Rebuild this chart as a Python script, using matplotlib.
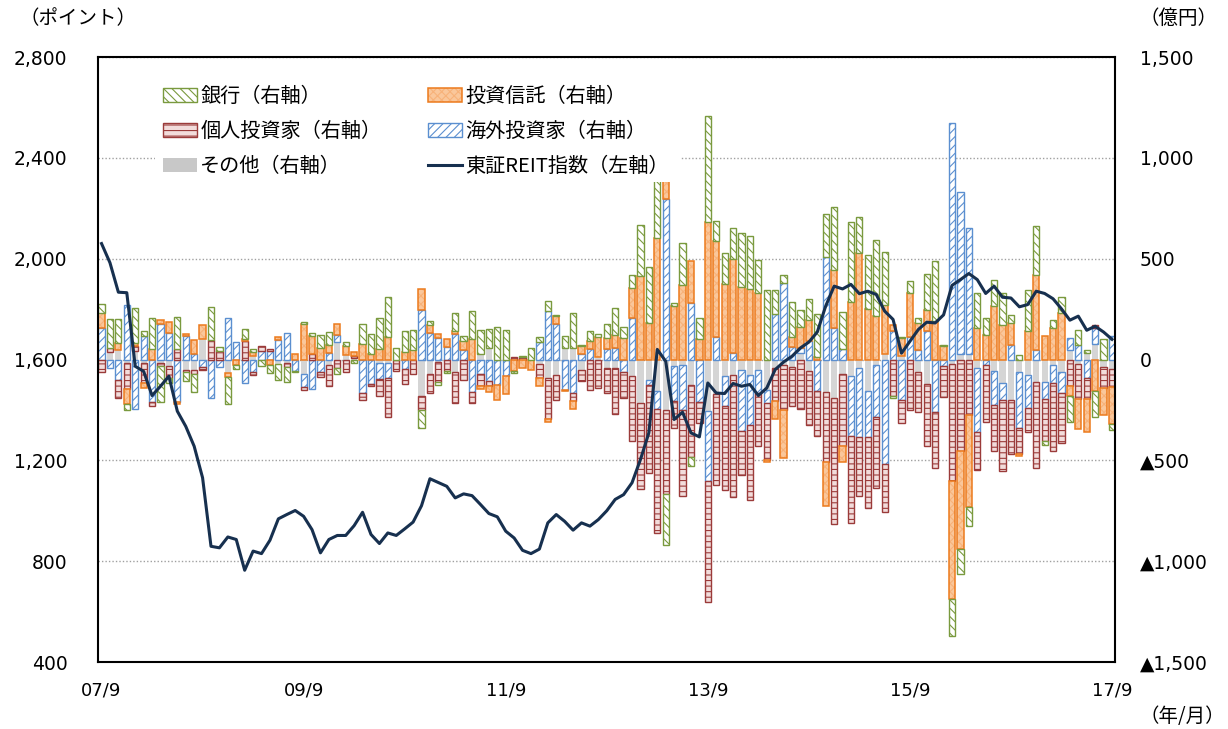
import numpy as np
import matplotlib.pyplot as plt
from matplotlib.patches import Patch, Rectangle
from matplotlib.lines import Line2D

plt.rcParams['font.family'] = ['Noto Sans CJK JP', 'DejaVu Sans']
plt.rcParams['hatch.linewidth'] = 0.8

# monthly data 2007/9 - 2017/9
months = np.arange(121)
tick_pos = [0, 24, 48, 72, 96, 120]
tick_labels = ['07/9', '09/9', '11/9', '13/9', '15/9', '17/9']

# 東証REIT指数 (left axis, points)
reit = [2060, 1984, 1867, 1865, 1573, 1553, 1457, 1494, 1534, 1395,
        1335, 1256, 1131, 859, 853, 896, 886, 764, 840, 830,
        883, 968, 985, 1001, 978, 925, 833, 886, 902, 902,
        941, 994, 906, 870, 912, 902, 928, 955, 1020, 1127,
        1112, 1097, 1051, 1067, 1060, 1025, 989, 976, 919, 892,
        843, 830, 848, 952, 985, 958, 923, 952, 939, 965,
        1000, 1045, 1064, 1111, 1203, 1309, 1640, 1593, 1362, 1391,
        1309, 1293, 1507, 1467, 1465, 1505, 1494, 1501, 1457, 1487,
        1560, 1590, 1613, 1646, 1669, 1709, 1812, 1891, 1880, 1898,
        1861, 1871, 1858, 1792, 1759, 1625, 1672, 1719, 1748, 1745,
        1777, 1894, 1917, 1941, 1917, 1862, 1891, 1847, 1844, 1809,
        1818, 1871, 1862, 1841, 1801, 1756, 1772, 1716, 1732, 1709,
        1680]

# net purchases (right axis, 億円)
other = [0, 38, 45, -15, 40, -15, 0, -15, -30, 0,
         -50, -50, 100, 0, 0, -65, 0, 0, 16, 0,
         0, -20, -15, 0, -70, 0, 0, -25, 86, 20,
         5, 0, 0, -15, -15, 0, 0, 0, -180, -72,
         -13, 0, -62, 0, 0, 25, 58, 0, 0, 0,
         0, 0, -20, -90, -75, 55, 55, -50, 0, 12,
         -40, -40, 0, -80, -215, -100, -155, -250, -33, -28,
         -125, 0, -254, -170, -83, -75, -50, -75, -50, -150,
         -40, -25, -38, 30, -58, 0, -160, -190, -71, -83,
         -41, -158, -28, 25, 0, 17, 0, -63, -121, 0,
         0, -20, 27, 27, -41, 0, -58, -118, -200, -63,
         -75, -110, -110, -29, -63, 45, -24, 33, 79, -36,
         -46]
foreign = [157, -41, -100, 269, -243, 116, -210, 174, 133, -210,
           116, 28, -38, -190, -35, 207, 88, -118, -60, 40,
           40, 95, 130, -55, -68, -145, -62, 33, 35, 0,
           0, -166, -120, -83, -75, 0, -45, 0, 244, 133,
           108, 61, 128, 45, -160, -70, -108, -124, -83, 0,
           0, 0, 86, 240, 174, -150, -166, 25, 50, 0,
           50, 55, -60, 207, 0, -25, -90, 796, -174, -220,
           282, -212, -348, 111, -150, 33, -303, -249, -116, -66,
           227, 381, 61, 28, 91, -154, 509, 154, 53, -298,
           -345, -224, -259, -519, 141, -201, 111, 45, 141, -260,
           -30, 1175, 805, 625, -317, -29, -166, -82, 74, -277,
           -163, 45, -86, -89, -103, 63, 74, -94, 77, 0,
           118]
individual = [-63, 20, -90, -133, 25, -100, -22, -17, -60, 50,
              -10, -22, -13, 95, 40, 0, 0, 90, -17, 25,
              13, 0, -20, 0, -12, 25, -25, -108, -40, -63,
              10, -33, -10, -83, -196, -55, -75, -73, -72, -95,
              -100, -55, -155, -100, -55, -63, -25, 0, 0, 12,
              12, 0, -70, -207, -125, 0, -41, -58, -152, -140,
              -125, -230, -130, -325, -427, -440, -617, -415, -133, -430,
              -356, -103, -600, -450, -415, -605, -219, -373, -265, -282,
              -166, -224, -194, -244, -265, -227, -350, -627, -360, -431,
              -293, -353, -351, -235, -179, -116, -248, -199, -310, -279,
              -158, -582, -452, -276, -188, -280, -228, -355, -269, -128,
              -123, -428, -206, -334, -247, -132, -171, -103, 14, -103,
              -89]
trust = [75, 0, 38, -73, 15, -25, 50, 22, 53, -10,
         8, 70, 70, 0, 0, -20, -28, 10, 20, 0,
         -25, 17, 0, 28, 174, 91, 58, 41, 56, 46,
         22, 78, 28, 50, 111, 0, 38, 45, 105, 36,
         17, 41, 13, 46, 100, -13, -28, -78, -88, -55,
         -40, -50, -42, -13, 41, -8, -36, 41, 41, 100,
         58, 66, 108, 146, 415, 182, 602, 250, 265, 370,
         207, 100, 680, 478, 376, 464, 360, 348, 332, -8,
         -91, -237, 50, 103, 104, 12, -215, 288, -75, 287,
         530, 249, 216, 245, 30, 88, 220, 138, 103, 191,
         66, -588, -488, -456, 156, 122, 267, 173, 108, -9,
         142, 372, 118, 156, 233, -51, -149, -161, -158, -137,
         -185]
bank = [45, 141, 116, -30, 174, 25, 158, -177, -25, 162,
        -45, -90, 0, 166, 20, -135, -17, 50, 17, -33,
        -40, -80, -75, -8, 12, 13, 63, 61, -33, 22,
        -18, 100, 100, 158, 199, 58, 103, 100, -86, 22,
        -12, -10, 91, 28, 141, 120, 95, 162, 144, -12,
        7, 55, 25, 50, 8, 61, 177, 8, 50, 16,
        70, 133, 55, 66, 254, 277, 350, -257, 17, 210,
        -45, 104, 526, 100, 151, 154, 265, 265, 161, 343,
        116, 38, 176, 85, 103, 212, 212, 315, 184, 393,
        177, 269, 376, 265, -13, 7, 58, 22, 182, 295,
        8, -183, -123, -92, 175, 86, 125, 158, 39, 22,
        202, 245, -22, 38, 77, -125, 74, 12, -128, 100,
        -29]

fig = plt.figure(figsize=(12.28, 7.29), dpi=100)
ax = fig.add_axes([0.0798, 0.0919, 0.8282, 0.8299])
ax2 = ax.twinx()

bar_w = 0.74
styles = {
    'other': dict(facecolor='#D5D5D5', edgecolor='none', linewidth=0),
    'foreign': dict(facecolor='white', edgecolor='#5B8FD0', hatch='////', linewidth=1.0),
    'individual': dict(facecolor='#F2DCDB', edgecolor='#9B3B3A', hatch='---', linewidth=1.0),
    'trust': dict(facecolor='#FAC79B', edgecolor='#F7B27A', hatch='xxxx', linewidth=0),
    'bank': dict(facecolor='white', edgecolor='#7A9A3E', hatch='\\\\\\\\', linewidth=1.0),
}
trust_outline = dict(facecolor='none', edgecolor='#EC7A1C', linewidth=1.1)

order = [('other', other), ('foreign', foreign), ('individual', individual),
         ('trust', trust), ('bank', bank)]
pos_base = np.zeros(len(months))
neg_base = np.zeros(len(months))
for key, vals in order:
    v = np.array(vals, dtype=float)
    for mask, base in ((v > 0, pos_base), (v < 0, neg_base)):
        xs = months[mask]
        ax.bar(xs, v[mask], bottom=base[mask], width=bar_w, **styles[key])
        if key == 'trust':
            ax.bar(xs, v[mask], bottom=base[mask], width=bar_w, **trust_outline)
        base[mask] += v[mask]

ax.set_ylim(-1500, 1500)
ax.set_xlim(-0.42, 120.36)
ax.set_yticks(np.arange(-1500, 1501, 500))
ax.set_yticklabels(['0' if v == 0 else (f'{v:,}' if v > 0 else f'▲{-v:,}')
                    for v in range(-1500, 1501, 500)])
ax.yaxis.tick_right()
ax.set_axisbelow(True)
ax.yaxis.grid(True, linestyle=(0, (1, 1.5)), color='#A0A0A0', linewidth=1.0)
ax.set_xticks(tick_pos)
ax.set_xticklabels(tick_labels)
ax.tick_params(axis='y', length=0, pad=18, labelsize=13.5, labelfontfamily='DejaVu Sans')
ax.tick_params(axis='x', length=0, pad=14, labelsize=13, labelfontfamily='DejaVu Sans')
for s in ax.spines.values():
    s.set_visible(False)

ax2.plot(months, reit, color='#17304F', linewidth=2.2, zorder=5)
ax2.set_ylim(400, 2800)
ax2.set_yticks(np.arange(400, 2801, 400))
ax2.set_yticklabels([f'{v:,}' for v in range(400, 2801, 400)])
ax2.yaxis.tick_left()
ax2.tick_params(axis='y', length=0, pad=22, labelsize=13.5, labelfontfamily='DejaVu Sans')
for s in ax2.spines.values():
    s.set_color('black')
    s.set_linewidth(1.5)

# white legend area hides bars and grid behind it, as in the original
ax2.add_patch(Rectangle((0.056, 0.793), 0.517, 0.18, transform=ax2.transAxes,
                        facecolor='white', edgecolor='none', zorder=8))

h_bank = Patch(**styles['bank'])
h_trust = (Patch(**styles['trust']), Patch(**trust_outline))
h_ind = Patch(**styles['individual'])
h_for = Patch(**styles['foreign'])
h_oth = Patch(facecolor='#C8C8C8', edgecolor='none')
h_reit = Line2D([], [], color='#17304F', linewidth=2.2)
handles = [h_bank, h_ind, h_oth, h_trust, h_for, h_reit]
labels = ['銀行（右軸）', '個人投資家（右軸）', 'その他（右軸）',
          '投資信託（右軸）', '海外投資家（右軸）', '東証REIT指数（左軸）']
leg = ax2.legend(handles, labels, ncol=2, loc='upper left',
                 bbox_to_anchor=(0.0639, 0.952), borderaxespad=0,
                 frameon=False, fontsize=14.5,
                 handlelength=1.7, handleheight=0.7, handletextpad=0.15,
                 labelspacing=0.69, columnspacing=2.3, borderpad=0)
leg.set_zorder(10)

fig.text(0.016, 0.975, '（ポイント）', fontsize=14, va='center', ha='left')
fig.text(0.928, 0.975, '（億円）', fontsize=14, va='center', ha='left')
fig.text(0.928, 0.017, '（年/月）', fontsize=14, va='center', ha='left')

fig.savefig('out.png', dpi=100)
